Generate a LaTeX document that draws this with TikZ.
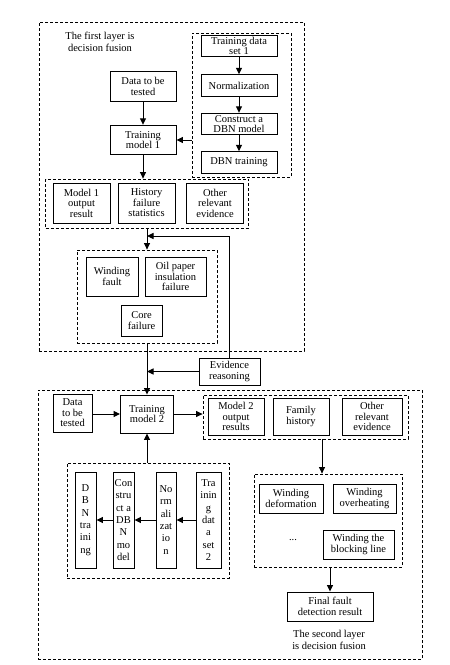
\documentclass[tikz,border=0pt]{standalone}
\usepackage{fontspec}
\setmainfont{Liberation Serif}
\usetikzlibrary{arrows.meta}

\tikzset{
	box/.style={draw, line width=0.9pt, align=center, inner sep=1pt, font=\fontsize{10.5}{10.5}\selectfont},
	vbox/.style={draw, line width=0.9pt, align=center, inner sep=1pt, font=\fontsize{10.5}{12.3}\selectfont},
	frame/.style={draw, densely dashed, line width=0.8pt},
	lbl/.style={align=center, font=\fontsize{10.5}{12}\selectfont},
	arr/.style={-{Triangle[length=6.5pt,width=6pt]}, line width=1pt}
}

\begin{document}
\begin{tikzpicture}[x=1pt,y=-1pt]
		\useasboundingbox (0,0) rectangle (450,665);

		% dashed frames
		\node[frame, minimum width=265, minimum height=329] (lay1) at (171.5,186.5) {};
		\node[frame, minimum width=99, minimum height=144] (dbn1) at (241.5,105) {};
		\node[frame, minimum width=203, minimum height=49] (ev1) at (147,203.5) {};
		\node[frame, minimum width=140, minimum height=93] (fail1) at (147,296.5) {};
		\node[frame, minimum width=384, minimum height=269] (lay2) at (230,524.5) {};
		\node[frame, minimum width=205, minimum height=44] (ev2) at (305.5,417) {};
		\node[frame, minimum width=148, minimum height=93] (fail2) at (328,520.5) {};
		\node[frame, minimum width=162, minimum height=115] (dbn2) at (148,520.5) {};

		% first layer
		\node[lbl] (title1) at (100,42) {The first layer is\\decision fusion};
		\begin{scope}[every node/.style={box, minimum width=76, minimum height=21.5}]
			\node (td1) at (239,46) {Training data\\set 1};
			\node (norm1) at (239,85.5) {Normalization};
			\node (cons1) at (239,124) {Construct a\\DBN model};
			\node (train1) at (239,162.5) {DBN training};
		\end{scope}
		\begin{scope}[every node/.style={box, minimum width=66, minimum height=29.5}]
			\node (data1) at (143,86.5) {Data to be\\tested};
			\node (tm1) at (143,140) {Training\\model 1};
		\end{scope}
		\begin{scope}[every node/.style={box, minimum width=57, minimum height=40}]
			\node (m1out) at (81.5,203) {Model 1\\output\\result};
			\node (hist) at (146.5,203) {History\\failure\\statistics};
			\node (other1) at (215,203) {Other\\relevant\\evidence};
		\end{scope}
		\begin{scope}[every node/.style={box, minimum height=39}]
			\node[minimum width=52] (wfault) at (112,276.5) {Winding\\fault};
			\node[minimum width=61] (oilp) at (175.5,276.5) {Oil paper\\insulation\\failure};
			\node[minimum width=41, minimum height=31] (core) at (141.5,320.5) {Core\\failure};
		\end{scope}
		\node[box, minimum width=61, minimum height=27] (evr) at (229.5,371.5) {Evidence\\reasoning};
		\coordinate (fb) at (147,236);

		% second layer
		\begin{scope}[every node/.style={box, minimum height=38}]
			\node[minimum width=39] (data2) at (72.5,413) {Data\\to be\\tested};
			\node[minimum width=53] (tm2) at (147,414) {Training\\model 2};
		\end{scope}
		\begin{scope}[every node/.style={box, minimum height=37}]
			\node[minimum width=56] (m2out) at (236,416.5) {Model 2\\output\\results};
			\node[minimum width=56] (family) at (301,416.5) {Family\\history};
			\node[minimum width=60] (other2) at (372,416.5) {Other\\relevant\\evidence};
		\end{scope}
		\begin{scope}[every node/.style={box, minimum height=29}]
			\node[minimum width=64] (wdef) at (291,498.5) {Winding\\deformation};
			\node[minimum width=63] (wover) at (364.5,498.5) {Winding\\overheating};
			\node[minimum width=71] (wblock) at (358.5,544.5) {Winding the\\blocking line};
			\node[minimum width=86] (final) at (330,606.5) {Final fault\\detection result};
		\end{scope}
		\node[lbl] (dots) at (293,540) {...};
		\node[lbl] (title2) at (329,639.5) {The second layer\\is decision fusion};
		\begin{scope}[every node/.style={vbox, minimum height=96}]
			\node[minimum width=21] (v1) at (85.5,520) {D\\B\\N\\tra\\ini\\ng};
			\node[minimum width=21] (v2) at (123.5,520) {Con\\stru\\ct a\\DB\\N\\mo\\del};
			\node[minimum width=20] (v3) at (166,520) {No\\rm\\ali\\zat\\io\\n};
			\node[minimum width=25] (v4) at (208.5,520) {Tra\\inin\\g\\dat\\a\\set\\2};
		\end{scope}

		% connectors
		\begin{scope}[every path/.style={arr}]
			\draw (td1) -- (norm1);
			\draw (norm1) -- (cons1);
			\draw (cons1) -- (train1);
			\draw (data1) -- (tm1);
			\draw (tm1.east -| dbn1.west) -- (tm1.east);
			\draw (tm1.south) -- (tm1.south |- ev1.north);
			\draw (ev1.south) -- (fail1.north);
			\draw (evr.north) |- (fb);
			\draw (fail1.south) -- (tm2.north);
			\draw (evr.west) -- (evr.west -| tm2.north);
			\draw (data2.east |- tm2.west) -- (tm2.west);
			\draw (tm2.east) -- (tm2.east -| ev2.west);
			\draw (tm2.south |- dbn2.north) -- (tm2.south);
			\draw (v4) -- (v3);
			\draw (v3) -- (v2);
			\draw (v2) -- (v1);
			\draw ([xshift=-6pt]fail2.north |- ev2.south) -- ([xshift=-6pt]fail2.north);
			\draw (fail2.south -| final.north) -- (final.north);
		\end{scope}

	\end{tikzpicture}
\end{document}
